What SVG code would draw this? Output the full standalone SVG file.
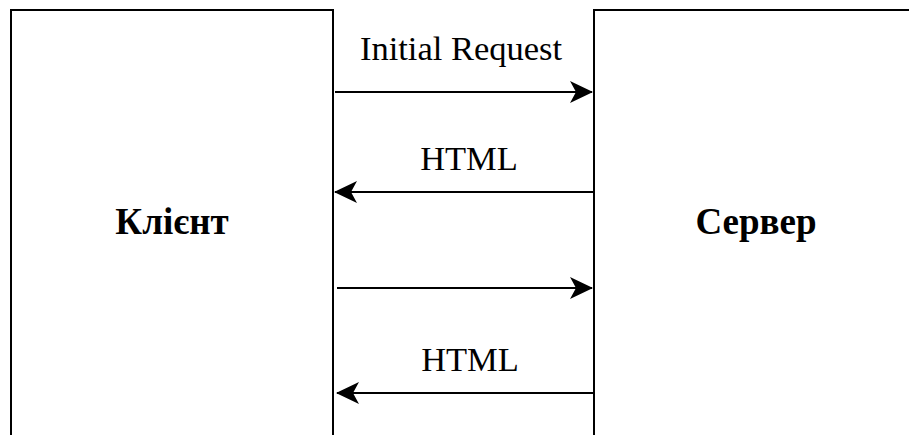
<svg xmlns="http://www.w3.org/2000/svg" width="909" height="435" viewBox="0 0 909 435">
  <style>
    .box { fill: #ffffff; stroke: #000000; stroke-width: 2; }
    .conn { stroke: #000000; stroke-width: 2; fill: none; marker-end: url(#arrow); }
    .lbl { font-family: "Liberation Serif", "Times New Roman", serif; font-size: 34.5px; fill: #000000; text-anchor: middle; }
    .title { font-family: "Liberation Serif", "Times New Roman", serif; font-size: 37px; font-weight: bold; fill: #000000; text-anchor: middle; }
  </style>
  <defs>
    <marker id="arrow" viewBox="0 0 23 22" markerWidth="23" markerHeight="22" refX="22" refY="11" orient="auto" markerUnits="userSpaceOnUse">
      <path d="M0,0 L23,11 L0,22 L6,11 Z" fill="#000000"/>
    </marker>
  </defs>
  <rect width="909" height="435" fill="#ffffff"/>
  <g id="client">
    <rect class="box" x="11" y="10" width="322" height="440"/>
    <text class="title" x="172" y="234">Клієнт</text>
  </g>
  <g id="server">
    <rect class="box" x="594" y="10" width="324" height="440"/>
    <text class="title" x="756" y="234">Сервер</text>
  </g>
  <g id="connectors">
    <line class="conn" x1="335" y1="92" x2="592" y2="92"/>
    <text class="lbl" x="461" y="59.5">Initial Request</text>
    <line class="conn" x1="593" y1="192" x2="335" y2="192"/>
    <text class="lbl" x="469" y="169.5">HTML</text>
    <line class="conn" x1="337" y1="288" x2="592" y2="288"/>
    <line class="conn" x1="593" y1="393" x2="337" y2="393"/>
    <text class="lbl" x="470" y="370.5">HTML</text>
  </g>
</svg>
